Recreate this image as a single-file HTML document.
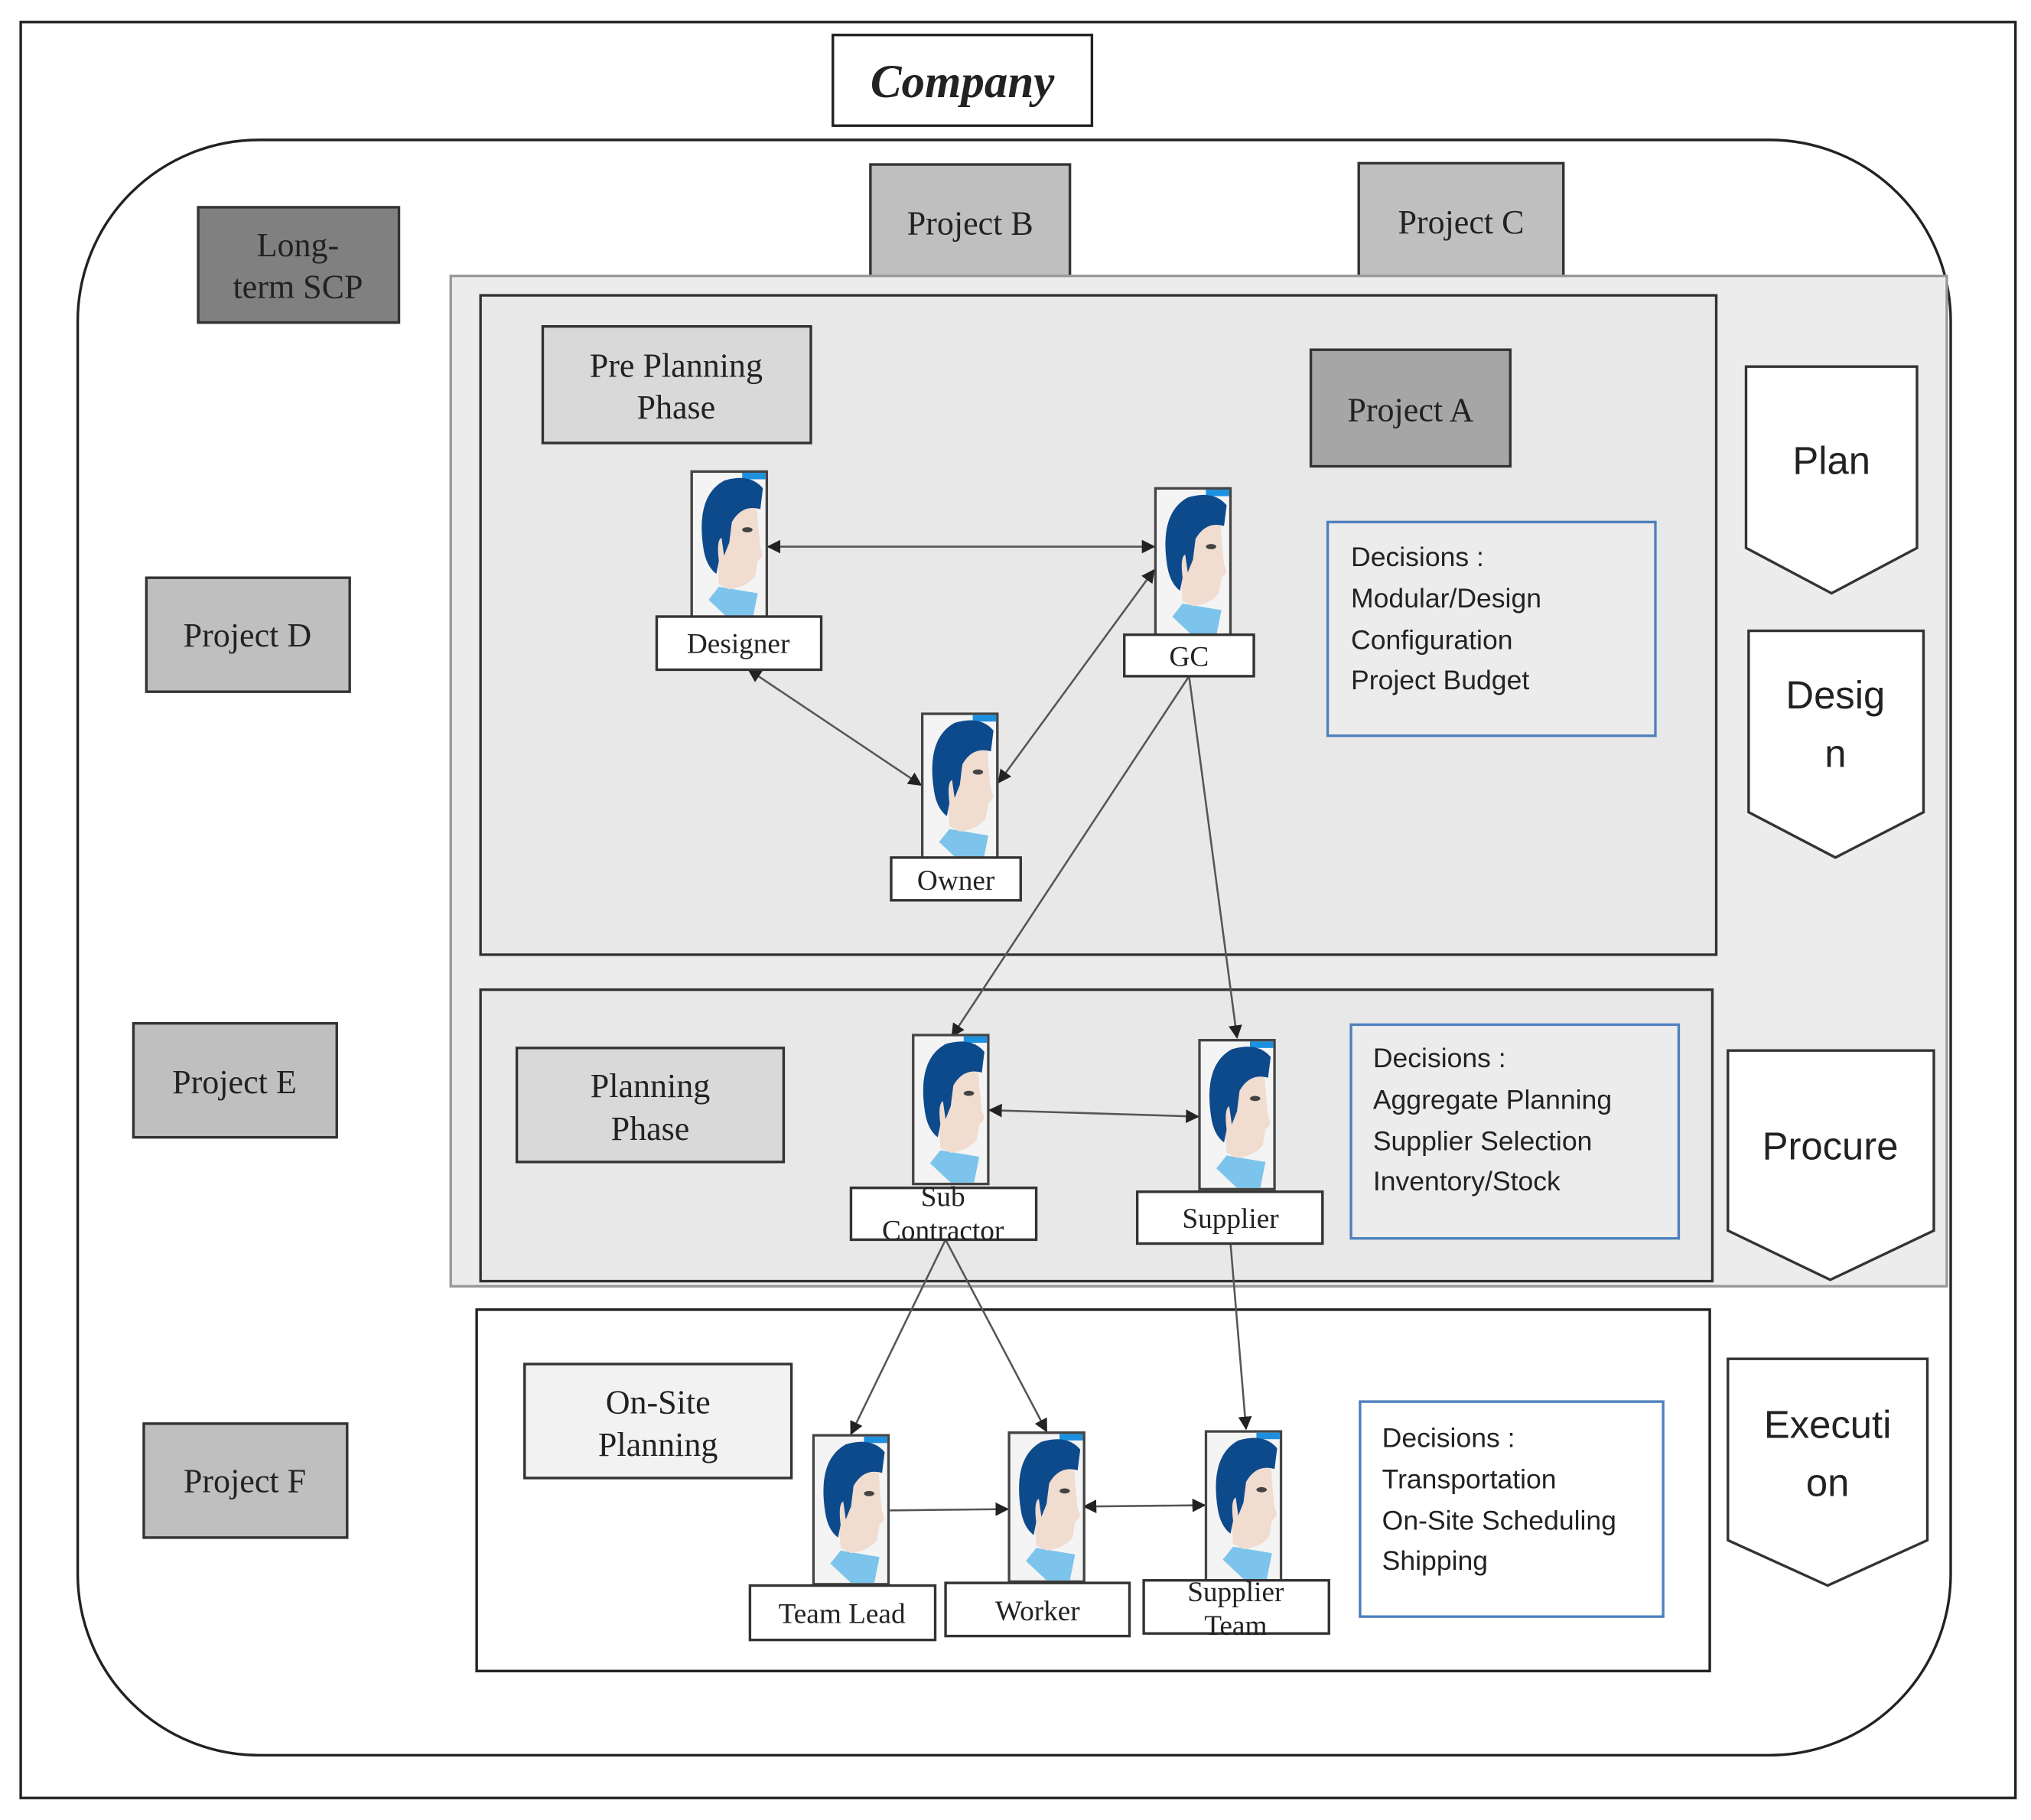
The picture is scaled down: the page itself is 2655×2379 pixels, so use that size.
<!DOCTYPE html>
<html><head><meta charset="utf-8"><style>
html,body{margin:0;padding:0;background:#fff}
svg{display:block}
.s{font-family:"Liberation Serif",serif;fill:#222}
.a{font-family:"Liberation Sans",sans-serif;fill:#222}
</style></head><body>
<svg width="2655" height="2379" viewBox="0 0 1568 1405" preserveAspectRatio="none" xmlns="http://www.w3.org/2000/svg">
<defs>
<marker id="m" viewBox="0 0 10 10" refX="9" refY="5" markerWidth="7" markerHeight="7" orient="auto-start-reverse"><path d="M0,0 L10,5 L0,10 z" fill="#222"/></marker>
<symbol id="p" viewBox="0 0 60 117" width="60" height="117">
<rect x="1" y="1" width="58" height="115" fill="#f4f4f4" stroke="#444" stroke-width="2"/>
<rect x="40" y="2" width="18" height="5" fill="#1e90e0"/>
<path d="M22,90 L14,100 L30,115 L48,115 L52,95 Z" fill="#7cc4ec"/>
<path d="M18,30 Q20,12 40,12 Q52,16 52,40 L54,60 Q58,66 52,70 L50,82 Q44,90 30,92 L22,88 L20,60 Z" fill="#f1dcd0"/>
<path d="M10,60 Q4,20 26,8 Q46,2 56,14 L54,30 Q40,26 32,40 L30,56 L26,66 L24,52 Q20,54 22,70 L20,80 Q12,74 10,60 Z" fill="#0d4a8c"/>
<ellipse cx="44" cy="46" rx="4" ry="2" fill="#444"/>
</symbol>
</defs>
<rect x="16" y="17" width="1540" height="1371" fill="#fff" stroke="#222" stroke-width="2"/>
<rect x="643" y="27" width="200" height="70" fill="#fff" stroke="#222" stroke-width="2"/>
<text x="743" y="75" text-anchor="middle" class="s" style="font-weight:bold;font-style:italic" font-size="36">Company</text>
<rect x="60" y="108" width="1446" height="1247" rx="140" fill="#fff" stroke="#222" stroke-width="2"/>

<rect x="153" y="160" width="155" height="89" fill="#808080" stroke="#333" stroke-width="2"/>
<text x="230" y="198" text-anchor="middle" class="s" font-size="26">Long-</text>
<text x="230" y="230" text-anchor="middle" class="s" font-size="26">term SCP</text>
<rect x="672" y="127" width="154" height="87" fill="#bfbfbf" stroke="#333" stroke-width="2"/>
<text x="749" y="181" text-anchor="middle" class="s" font-size="26">Project B</text>
<rect x="1049" y="126" width="158" height="88" fill="#bfbfbf" stroke="#333" stroke-width="2"/>
<text x="1128" y="180" text-anchor="middle" class="s" font-size="26">Project C</text>
<rect x="113" y="446" width="157" height="88" fill="#bfbfbf" stroke="#333" stroke-width="2"/>
<text x="191" y="499" text-anchor="middle" class="s" font-size="26">Project D</text>
<rect x="103" y="790" width="157" height="88" fill="#bfbfbf" stroke="#333" stroke-width="2"/>
<text x="181" y="844" text-anchor="middle" class="s" font-size="26">Project E</text>
<rect x="111" y="1099" width="157" height="88" fill="#bfbfbf" stroke="#333" stroke-width="2"/>
<text x="189" y="1152" text-anchor="middle" class="s" font-size="26">Project F</text>

<rect x="348" y="213" width="1155" height="780" fill="#ececec" stroke="#999" stroke-width="2"/>
<rect x="371" y="228" width="954" height="509" fill="#e8e8e8" stroke="#333" stroke-width="2"/>
<rect x="419" y="252" width="207" height="90" fill="#d9d9d9" stroke="#333" stroke-width="2"/>
<text x="522" y="291" text-anchor="middle" class="s" font-size="26">Pre Planning</text>
<text x="522" y="323" text-anchor="middle" class="s" font-size="26">Phase</text>
<rect x="1012" y="270" width="154" height="90" fill="#a6a6a6" stroke="#333" stroke-width="2"/>
<text x="1089" y="325" text-anchor="middle" class="s" font-size="26">Project A</text>
<rect x="1025" y="403" width="253" height="165" fill="#ececec" stroke="#4f81bd" stroke-width="2"/>
<g class="a" font-size="21"><text x="1043" y="437">Decisions :</text><text x="1043" y="469">Modular/Design</text><text x="1043" y="501">Configuration</text><text x="1043" y="532">Project Budget</text></g>

<rect x="371" y="764" width="951" height="225" fill="#e8e8e8" stroke="#333" stroke-width="2"/>
<rect x="399" y="809" width="206" height="88" fill="#d9d9d9" stroke="#333" stroke-width="2"/>
<text x="502" y="847" text-anchor="middle" class="s" font-size="26">Planning</text>
<text x="502" y="880" text-anchor="middle" class="s" font-size="26">Phase</text>
<rect x="1043" y="791" width="253" height="165" fill="#ececec" stroke="#4f81bd" stroke-width="2"/>
<g class="a" font-size="21"><text x="1060" y="824">Decisions :</text><text x="1060" y="856">Aggregate Planning</text><text x="1060" y="888">Supplier Selection</text><text x="1060" y="919">Inventory/Stock</text></g>

<rect x="368" y="1011" width="952" height="279" fill="#fff" stroke="#222" stroke-width="2"/>
<rect x="405" y="1053" width="206" height="88" fill="#f2f2f2" stroke="#333" stroke-width="2"/>
<text x="508" y="1091" text-anchor="middle" class="s" font-size="26">On-Site</text>
<text x="508" y="1124" text-anchor="middle" class="s" font-size="26">Planning</text>
<rect x="1050" y="1082" width="234" height="166" fill="#fff" stroke="#4f81bd" stroke-width="2"/>
<g class="a" font-size="21"><text x="1067" y="1117">Decisions :</text><text x="1067" y="1149">Transportation</text><text x="1067" y="1181">On-Site Scheduling</text><text x="1067" y="1212">Shipping</text></g>

<g fill="#fff" stroke="#333" stroke-width="2">
<path d="M1348,283 H1480 V423 L1414,458 L1348,423 Z"/>
<path d="M1350,487 H1485 V627 L1417,662 L1350,627 Z"/>
<path d="M1334,811 H1493 V950 L1413,988 L1334,950 Z"/>
<path d="M1334,1049 H1488 V1189 L1411,1224 L1334,1189 Z"/>
</g>
<g class="a" font-size="30" text-anchor="middle">
<text x="1414" y="366">Plan</text>
<text x="1417" y="547">Desig</text><text x="1417" y="592">n</text>
<text x="1413" y="895">Procure</text>
<text x="1411" y="1110">Executi</text><text x="1411" y="1155">on</text>
</g>

<g stroke="#555" stroke-width="1.5" fill="none" marker-end="url(#m)">
<line x1="593" y1="422" x2="891" y2="422" marker-start="url(#m)"/>
<line x1="578" y1="517" x2="711" y2="606" marker-start="url(#m)"/>
<line x1="891" y1="440" x2="771" y2="604" marker-start="url(#m)"/>
<line x1="918" y1="522" x2="735" y2="800"/>
<line x1="918" y1="522" x2="955" y2="801"/>
<line x1="764" y1="857" x2="925" y2="862" marker-start="url(#m)"/>
<line x1="730" y1="957" x2="657" y2="1107"/>
<line x1="730" y1="957" x2="808" y2="1105"/>
<line x1="950" y1="960" x2="962" y2="1103"/>
<line x1="687" y1="1166" x2="778" y2="1165"/>
<line x1="837" y1="1163" x2="930" y2="1162" marker-start="url(#m)"/>
</g>

<use href="#p" x="533" y="363"/>
<use href="#p" x="891" y="376"/>
<use href="#p" x="711" y="550"/>
<use href="#p" x="704" y="798"/>
<use href="#p" x="925" y="802"/>
<use href="#p" x="627" y="1107"/>
<use href="#p" x="778" y="1105"/>
<use href="#p" x="930" y="1104"/>

<g fill="#fff" stroke="#333" stroke-width="2">
<rect x="507" y="476" width="127" height="41"/>
<rect x="868" y="490" width="100" height="32"/>
<rect x="688" y="662" width="100" height="33"/>
<rect x="657" y="917" width="143" height="40"/>
<rect x="878" y="920" width="143" height="40"/>
<rect x="579" y="1224" width="143" height="42"/>
<rect x="730" y="1222" width="142" height="41"/>
<rect x="883" y="1220" width="143" height="41"/>
</g>
<g class="s" font-size="22" text-anchor="middle">
<text x="570" y="504">Designer</text>
<text x="918" y="514">GC</text>
<text x="738" y="687">Owner</text>
<text x="728" y="931">Sub</text><text x="728" y="957">Contractor</text>
<text x="950" y="948">Supplier</text>
<text x="650" y="1253">Team Lead</text>
<text x="801" y="1251">Worker</text>
<text x="954" y="1236">Supplier</text><text x="954" y="1262">Team</text>
</g>
</svg>
</body></html>
